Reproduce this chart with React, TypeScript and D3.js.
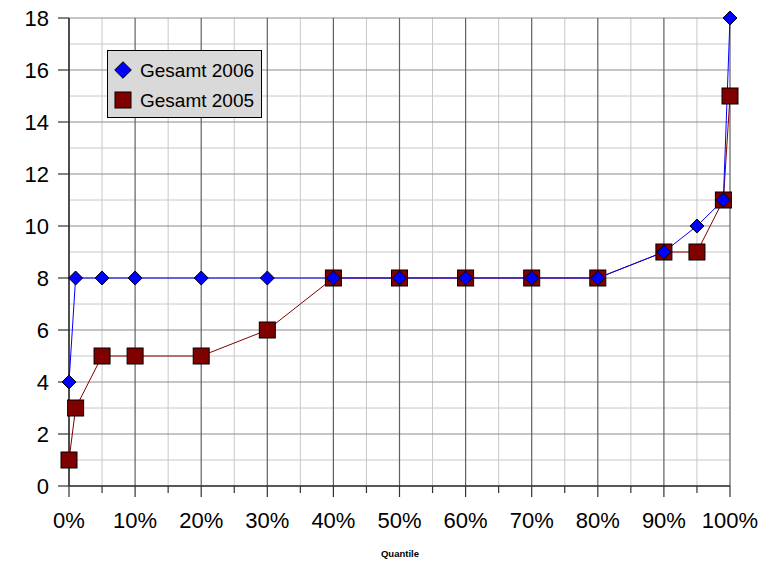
import React from "react";
import * as d3 from "d3";

// Quantile positions (percent) and the values of both series
const quantiles = [0, 1, 5, 10, 20, 30, 40, 50, 60, 70, 80, 90, 95, 99, 100];
const gesamt2006 = [4, 8, 8, 8, 8, 8, 8, 8, 8, 8, 8, 9, 10, 11, 18];
const gesamt2005 = [1, 3, 5, 5, 5, 6, 8, 8, 8, 8, 8, 9, 9, 11, 15];
const seriesNames = ["Gesamt 2006", "Gesamt 2005"];
const xTicks = [0, 10, 20, 30, 40, 50, 60, 70, 80, 90, 100];
const yTicks = [0, 2, 4, 6, 8, 10, 12, 14, 16, 18];

const W = 764;
const H = 561;
const left = 69;
const right = 730;
const top = 18;
const bottom = 486;
const font = "Liberation Sans, Arial, sans-serif";

export default function App() {
  const x = d3.scaleLinear().domain([0, 100]).range([left, right]);
  const y = d3.scaleLinear().domain([0, 18]).range([bottom, top]);

  const minorX = d3.range(5, 100, 10);
  const minorY = d3.range(1, 18, 2);

  const line = d3
    .line<[number, number]>()
    .x((d) => x(d[0]))
    .y((d) => y(d[1]));

  const pts06 = quantiles.map((q, i) => [q, gesamt2006[i]] as [number, number]);
  const pts05 = quantiles.map((q, i) => [q, gesamt2005[i]] as [number, number]);

  const diamond = (cx: number, cy: number, r = 7) =>
    `M${cx},${cy - r}L${cx + r},${cy}L${cx},${cy + r}L${cx - r},${cy}Z`;
  const sq = 8;

  return (
    <svg width={W} height={H} style={{ display: "block", position: "absolute", left: 0, top: 0 }}>
      <rect width={W} height={H} fill="#fff" />
      {/* minor grid */}
      {minorX.map((v) => (
        <line key={"mx" + v} x1={x(v)} x2={x(v)} y1={top} y2={bottom} stroke="#c8c8c8" strokeWidth={1} />
      ))}
      {minorY.map((v) => (
        <line key={"my" + v} x1={left} x2={right} y1={y(v)} y2={y(v)} stroke="#c8c8c8" strokeWidth={1} />
      ))}
      {/* major grid */}
      {yTicks.map((v) => (
        <line key={"gy" + v} x1={left} x2={right} y1={y(v)} y2={y(v)} stroke="#8c8c8c" strokeWidth={1.2} />
      ))}
      {xTicks.map((v) => (
        <line key={"gx" + v} x1={x(v)} x2={x(v)} y1={top} y2={bottom} stroke="#606060" strokeWidth={1.2} />
      ))}
      {/* axes */}
      <line x1={left} x2={left} y1={top} y2={bottom} stroke="#333" strokeWidth={1.5} />
      <line x1={left} x2={right} y1={bottom} y2={bottom} stroke="#333" strokeWidth={1.5} />
      {yTicks.map((v) => (
        <line key={"ty" + v} x1={left - 11} x2={left} y1={y(v)} y2={y(v)} stroke="#333" strokeWidth={1.2} />
      ))}
      {d3.range(0, 101, 5).map((v) => (
        <line
          key={"tx" + v}
          x1={x(v)}
          x2={x(v)}
          y1={bottom}
          y2={bottom + (v % 10 === 0 ? 11 : 7)}
          stroke="#333"
          strokeWidth={1.2}
        />
      ))}
      {/* tick labels */}
      {yTicks.map((v) => (
        <text
          key={"ly" + v}
          x={49}
          y={y(v)}
          dy="0.36em"
          textAnchor="end"
          fontFamily={font}
          fontSize={22}
          fill="#000"
        >
          {v}
        </text>
      ))}
      {xTicks.map((v) => (
        <text
          key={"lx" + v}
          x={x(v)}
          y={528}
          textAnchor="middle"
          fontFamily={font}
          fontSize={22}
          fill="#000"
        >
          {v + "%"}
        </text>
      ))}
      <text x={400} y={557} textAnchor="middle" fontFamily={font} fontSize={9.5} fontWeight="bold">
        Quantile
      </text>
      {/* series lines */}
      <path d={line(pts05) || ""} fill="none" stroke="#800000" strokeWidth={1} />
      <path d={line(pts06) || ""} fill="none" stroke="#0000ff" strokeWidth={1} />
      {/* markers */}
      {pts05.map((p, i) => (
        <rect
          key={"s" + i}
          x={x(p[0]) - sq}
          y={y(p[1]) - sq}
          width={sq * 2}
          height={sq * 2}
          fill="#800000"
          stroke="#000"
          strokeWidth={1}
        />
      ))}
      {pts06.map((p, i) => (
        <path key={"d" + i} d={diamond(x(p[0]), y(p[1]))} fill="#0000ff" stroke="#000" strokeWidth={1} />
      ))}
      {/* legend */}
      <rect x={107.5} y={50.5} width={154} height={67} fill="#d9d9d9" stroke="#000" strokeWidth={1} />
      <path d={diamond(123, 70, 8.3)} fill="#0000ff" stroke="#000" strokeWidth={1} />
      <rect x={115} y={92} width={16} height={16} fill="#800000" stroke="#000" strokeWidth={1} />
      <text x={140} y={77.3} fontFamily={font} fontSize={19} fill="#000">
        {seriesNames[0]}
      </text>
      <text x={140} y={107.3} fontFamily={font} fontSize={19} fill="#000">
        {seriesNames[1]}
      </text>
    </svg>
  );
}
